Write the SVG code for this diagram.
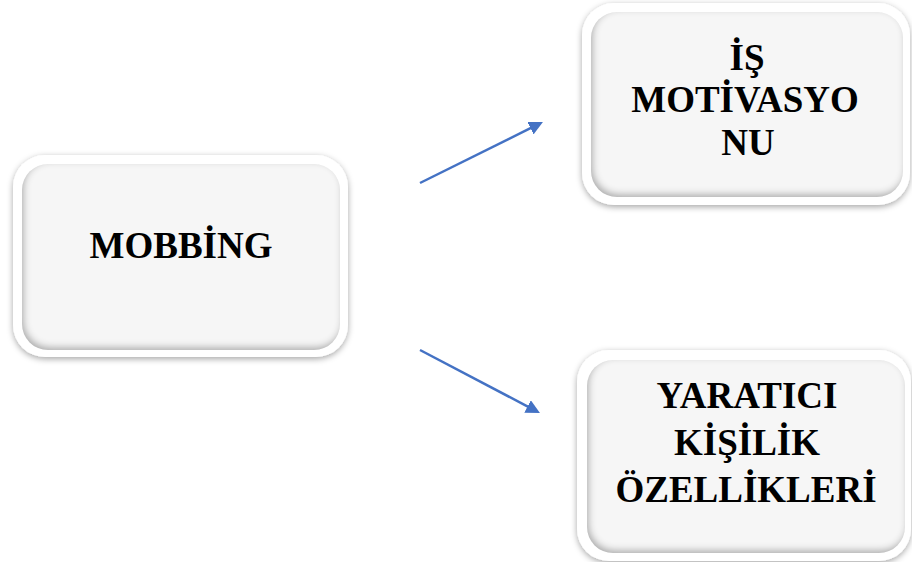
<svg xmlns="http://www.w3.org/2000/svg" width="912" height="562" viewBox="0 0 912 562">
  <defs>
    <style>
      .frame { fill: #ffffff; filter: url(#outerShadow); }
      .face { fill: #f6f6f6; filter: url(#bevel); }
      .label { font-family: "Liberation Serif", "Times New Roman", serif; font-weight: bold; font-size: 37px; fill: #000000; text-anchor: middle; }
      .link { stroke: #4472C4; stroke-width: 2.5; fill: none; marker-end: url(#arrow); }
    </style>
    <!-- soft shadow around the white frame -->
    <filter id="outerShadow" x="-10%" y="-10%" width="120%" height="125%">
      <feDropShadow dx="0" dy="2" stdDeviation="3" flood-color="#000000" flood-opacity="0.35"/>
    </filter>
    <!-- inner shading along the lower and left edges of the face -->
    <filter id="bevel" x="-5%" y="-5%" width="110%" height="110%">
      <feFlood flood-color="#000000" flood-opacity="0.55" result="ink"/>
      <feComposite in="ink" in2="SourceAlpha" operator="out" result="outside"/>
      <feGaussianBlur in="outside" stdDeviation="3.5" result="soft"/>
      <feOffset in="soft" dx="2" dy="-3.5" result="moved"/>
      <feComposite in="moved" in2="SourceAlpha" operator="in" result="inner"/>
      <feMerge>
        <feMergeNode in="SourceGraphic"/>
        <feMergeNode in="inner"/>
      </feMerge>
    </filter>
    <marker id="arrow" viewBox="0 0 14 14" refX="4" refY="7" markerWidth="14" markerHeight="14" markerUnits="userSpaceOnUse" orient="auto">
      <path d="M0,0 L14,7 L0,14 z" fill="#4472C4"/>
    </marker>
  </defs>

  <g id="connectors">
    <line class="link" x1="420" y1="183" x2="534" y2="126.4"/>
    <line class="link" x1="420" y1="350" x2="531.1" y2="408.3"/>
  </g>

  <g id="node-mobbing">
    <rect class="frame" x="13" y="155" width="335" height="202" rx="32"/>
    <rect class="face" x="22" y="164" width="318" height="186" rx="26"/>
    <text class="label" x="181" y="258">MOBBİNG</text>
  </g>

  <g id="node-is-motivasyonu">
    <rect class="frame" x="582" y="3" width="328" height="202" rx="32"/>
    <rect class="face" x="591" y="12" width="312" height="185" rx="26"/>
    <text class="label" x="747" y="70">İŞ</text>
    <text class="label" x="745" y="111.5">MOTİVASYO</text>
    <text class="label" x="748" y="155">NU</text>
  </g>

  <g id="node-yaratici-kisilik">
    <rect class="frame" x="577" y="350" width="334" height="211" rx="32"/>
    <rect class="face" x="587" y="360" width="318" height="193" rx="26"/>
    <text class="label" x="747" y="408">YARATICI</text>
    <text class="label" x="747" y="455">KİŞİLİK</text>
    <text class="label" x="746" y="502">ÖZELLİKLERİ</text>
  </g>
</svg>
